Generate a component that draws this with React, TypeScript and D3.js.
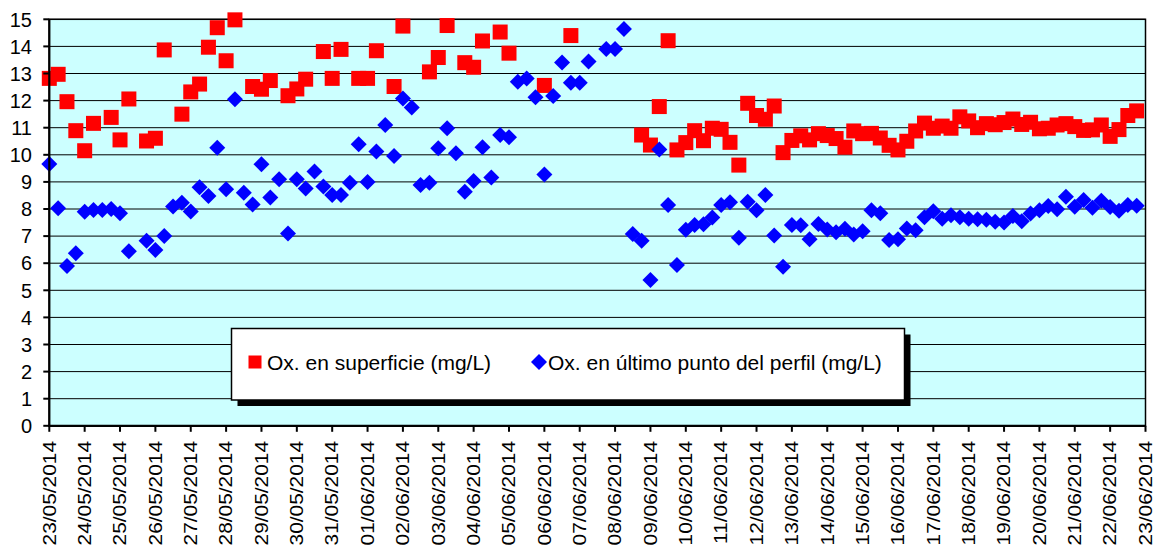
import React from "react";
import * as d3 from "d3";

// ---- data ----
const dateLabels = [
  "23/05/2014", "24/05/2014", "25/05/2014", "26/05/2014", "27/05/2014", "28/05/2014",
  "29/05/2014", "30/05/2014", "31/05/2014", "01/06/2014", "02/06/2014", "03/06/2014",
  "04/06/2014", "05/06/2014", "06/06/2014", "07/06/2014", "08/06/2014", "09/06/2014",
  "10/06/2014", "11/06/2014", "12/06/2014", "13/06/2014", "14/06/2014", "15/06/2014",
  "16/06/2014", "17/06/2014", "18/06/2014", "19/06/2014", "20/06/2014", "21/06/2014",
  "22/06/2014", "23/06/2014",
];
const yTicks = [0, 1, 2, 3, 4, 5, 6, 7, 8, 9, 10, 11, 12, 13, 14, 15];

const seriesNames = ["Ox. en superficie (mg/L)", "Ox. en último punto del perfil (mg/L)"];

// [month-day hour, mg/L]
const surface: [string, number][] = [
  ["05-23 00", 12.82], ["05-23 06", 12.97], ["05-23 12", 11.96], ["05-23 18", 10.89],
  ["05-24 00", 10.15], ["05-24 06", 11.16], ["05-24 18", 11.38],
  ["05-25 00", 10.55], ["05-25 06", 12.06], ["05-25 18", 10.51],
  ["05-26 00", 10.61], ["05-26 06", 13.87], ["05-26 18", 11.5],
  ["05-27 00", 12.32], ["05-27 06", 12.61], ["05-27 12", 13.97], ["05-27 18", 14.69],
  ["05-28 00", 13.47], ["05-28 06", 14.98], ["05-28 18", 12.52],
  ["05-29 00", 12.42], ["05-29 06", 12.74], ["05-29 18", 12.18],
  ["05-30 00", 12.43], ["05-30 06", 12.79], ["05-30 18", 13.81],
  ["05-31 00", 12.82], ["05-31 06", 13.89], ["05-31 18", 12.82],
  ["06-01 00", 12.82], ["06-01 06", 13.84], ["06-01 18", 12.52],
  ["06-02 00", 14.75], ["06-02 18", 13.06],
  ["06-03 00", 13.59], ["06-03 06", 14.77], ["06-03 18", 13.4],
  ["06-04 00", 13.23], ["06-04 06", 14.2], ["06-04 18", 14.53],
  ["06-05 00", 13.75], ["06-06 00", 12.56], ["06-06 18", 14.4],
  ["06-08 18", 10.73], ["06-09 00", 10.36], ["06-09 06", 11.78], ["06-09 12", 14.21], ["06-09 18", 10.18],
  ["06-10 00", 10.45], ["06-10 06", 10.89], ["06-10 12", 10.52], ["06-10 18", 10.98],
  ["06-11 00", 10.94], ["06-11 06", 10.46], ["06-11 12", 9.62], ["06-11 18", 11.9],
  ["06-12 00", 11.45], ["06-12 06", 11.31], ["06-12 12", 11.8], ["06-12 18", 10.08],
  ["06-13 00", 10.53], ["06-13 06", 10.7], ["06-13 12", 10.55], ["06-13 18", 10.78],
  ["06-14 00", 10.71], ["06-14 06", 10.6], ["06-14 12", 10.28], ["06-14 18", 10.88],
  ["06-15 00", 10.78], ["06-15 06", 10.79], ["06-15 12", 10.62], ["06-15 18", 10.35],
  ["06-16 00", 10.18], ["06-16 06", 10.5], ["06-16 12", 10.88], ["06-16 18", 11.17],
  ["06-17 00", 10.98], ["06-17 06", 11.06], ["06-17 12", 10.98], ["06-17 18", 11.4],
  ["06-18 00", 11.25], ["06-18 06", 11.0], ["06-18 12", 11.15], ["06-18 18", 11.11],
  ["06-19 00", 11.19], ["06-19 06", 11.32], ["06-19 12", 11.12], ["06-19 18", 11.2],
  ["06-20 00", 10.96], ["06-20 06", 10.98], ["06-20 12", 11.1], ["06-20 18", 11.15],
  ["06-21 00", 11.04], ["06-21 06", 10.9], ["06-21 12", 10.92], ["06-21 18", 11.1],
  ["06-22 00", 10.68], ["06-22 06", 10.93], ["06-22 12", 11.45], ["06-22 18", 11.62],
];

const bottom: [string, number][] = [
  ["05-23 00", 9.66], ["05-23 06", 8.03], ["05-23 12", 5.9], ["05-23 18", 6.37],
  ["05-24 00", 7.9], ["05-24 06", 7.96], ["05-24 12", 7.96], ["05-24 18", 8.0],
  ["05-25 00", 7.84], ["05-25 06", 6.44], ["05-25 18", 6.83],
  ["05-26 00", 6.49], ["05-26 06", 7.0], ["05-26 12", 8.09], ["05-26 18", 8.23],
  ["05-27 00", 7.91], ["05-27 06", 8.8], ["05-27 12", 8.48], ["05-27 18", 10.26],
  ["05-28 00", 8.73], ["05-28 06", 12.05], ["05-28 12", 8.6], ["05-28 18", 8.17],
  ["05-29 00", 9.65], ["05-29 06", 8.42], ["05-29 12", 9.1], ["05-29 18", 7.1],
  ["05-30 00", 9.1], ["05-30 06", 8.76], ["05-30 12", 9.38], ["05-30 18", 8.83],
  ["05-31 00", 8.52], ["05-31 06", 8.52], ["05-31 12", 8.97], ["05-31 18", 10.39],
  ["06-01 00", 9.0], ["06-01 06", 10.12], ["06-01 12", 11.1], ["06-01 18", 9.96],
  ["06-02 00", 12.08], ["06-02 06", 11.75], ["06-02 12", 8.89], ["06-02 18", 8.97],
  ["06-03 00", 10.24], ["06-03 06", 10.98], ["06-03 12", 10.06], ["06-03 18", 8.64],
  ["06-04 00", 9.03], ["06-04 06", 10.28], ["06-04 12", 9.16], ["06-04 18", 10.73],
  ["06-05 00", 10.65], ["06-05 06", 12.7], ["06-05 12", 12.82], ["06-05 18", 12.12],
  ["06-06 00", 9.27], ["06-06 06", 12.17], ["06-06 12", 13.41], ["06-06 18", 12.66],
  ["06-07 00", 12.66], ["06-07 06", 13.44], ["06-07 18", 13.9],
  ["06-08 00", 13.9], ["06-08 06", 14.64], ["06-08 12", 7.08], ["06-08 18", 6.83],
  ["06-09 00", 5.38], ["06-09 06", 10.2], ["06-09 12", 8.15], ["06-09 18", 5.93],
  ["06-10 00", 7.23], ["06-10 06", 7.41], ["06-10 12", 7.44], ["06-10 18", 7.69],
  ["06-11 00", 8.15], ["06-11 06", 8.25], ["06-11 12", 6.94], ["06-11 18", 8.27],
  ["06-12 00", 7.95], ["06-12 06", 8.52], ["06-12 12", 7.02], ["06-12 18", 5.87],
  ["06-13 00", 7.41], ["06-13 06", 7.4], ["06-13 12", 6.88], ["06-13 18", 7.45],
  ["06-14 00", 7.24], ["06-14 06", 7.14], ["06-14 12", 7.27], ["06-14 18", 7.06],
  ["06-15 00", 7.18], ["06-15 06", 7.95], ["06-15 12", 7.84], ["06-15 18", 6.86],
  ["06-16 00", 6.88], ["06-16 06", 7.28], ["06-16 12", 7.22], ["06-16 18", 7.7],
  ["06-17 00", 7.92], ["06-17 06", 7.64], ["06-17 12", 7.77], ["06-17 18", 7.7],
  ["06-18 00", 7.64], ["06-18 06", 7.62], ["06-18 12", 7.6], ["06-18 18", 7.53],
  ["06-19 00", 7.5], ["06-19 06", 7.74], ["06-19 12", 7.55], ["06-19 18", 7.83],
  ["06-20 00", 7.95], ["06-20 06", 8.11], ["06-20 12", 7.99], ["06-20 18", 8.45],
  ["06-21 00", 8.08], ["06-21 06", 8.33], ["06-21 12", 8.05], ["06-21 18", 8.3],
  ["06-22 00", 8.07], ["06-22 06", 7.94], ["06-22 12", 8.15], ["06-22 18", 8.12],
];

// ---- layout ----
const W = 1154;
const H = 548;
const PL = 49.3, PR = 1145.5, PT = 19.3, PB = 425.8;
const FONT = "Arial, 'Liberation Sans', Helvetica, sans-serif";

const parseTick = d3.utcParse("%d/%m/%Y");
const parsePoint = d3.utcParse("%Y-%m-%d %H");

export default function App() {
  const x = d3
    .scaleUtc()
    .domain([parseTick(dateLabels[0])!, parseTick(dateLabels[dateLabels.length - 1])!])
    .range([PL, PR]);
  const y = d3.scaleLinear().domain([0, 15]).range([PB, PT]);

  const sq = 15;
  const dm = 8;
  const diamond = (cx: number, cy: number, r: number) =>
    `M${cx},${cy - r}L${cx + r},${cy}L${cx},${cy + r}L${cx - r},${cy}Z`;

  return (
    <svg
      width={W}
      height={H}
      style={{ position: "absolute", left: 0, top: 0, background: "#fff" }}
      fontFamily={FONT}
    >
      <rect x={0} y={0} width={W} height={H} fill="#fff" />
      {/* plot area */}
      <rect x={PL} y={PT} width={PR - PL} height={PB - PT} fill="#CCFFFF" />
      {yTicks.map((t) => (
        <line key={"g" + t} x1={PL} x2={PR} y1={y(t)} y2={y(t)} stroke="#000" strokeWidth={1} />
      ))}
      <rect x={PL} y={PT} width={PR - PL} height={PB - PT} fill="none" stroke="#000" strokeWidth={1.5} />

      {/* series: surface (red squares) */}
      {surface.map(([t, v], i) => {
        const cx = x(parsePoint("2014-" + t)!);
        const cy = y(v);
        return <rect key={"s" + i} x={cx - sq / 2} y={cy - sq / 2} width={sq} height={sq} fill="#FF0000" />;
      })}
      {/* series: last point (blue diamonds) */}
      {bottom.map(([t, v], i) => {
        const cx = x(parsePoint("2014-" + t)!);
        const cy = y(v);
        return <path key={"b" + i} d={diamond(cx, cy, dm)} fill="#0000FF" />;
      })}

      {/* axes */}
      <line x1={PL} x2={PL} y1={PT} y2={PB + 1} stroke="#000" strokeWidth={2.2} />
      <line x1={PL - 1} x2={PR} y1={PB} y2={PB} stroke="#000" strokeWidth={2.2} />
      {yTicks.map((t) => (
        <g key={"yt" + t}>
          <line x1={PL - 6} x2={PL} y1={y(t)} y2={y(t)} stroke="#000" strokeWidth={2} />
          <text x={32} y={y(t)} dy="0.36em" textAnchor="end" fontSize={20} fill="#000">
            {t}
          </text>
        </g>
      ))}
      {dateLabels.map((lab) => {
        const tx = x(parseTick(lab)!);
        return (
          <g key={lab}>
            <line x1={tx} x2={tx} y1={PB} y2={PB + 6} stroke="#000" strokeWidth={2} />
            <text
              transform={`translate(${tx + 6.3},441) rotate(-90) scale(1.16,1)`}
              textAnchor="end"
              fontSize={18}
              fill="#000"
            >
              {lab}
            </text>
          </g>
        );
      })}

      {/* legend */}
      <rect x={237.5} y={334.5} width={673} height={71.5} fill="#000" />
      <rect x={231.5} y={328.5} width={673} height={71.5} fill="#fff" stroke="#000" strokeWidth={1.5} />
      <rect x={248.5} y={355.5} width={13} height={13} fill="#FF0000" />
      <text x={267} y={369.5} fontSize={21} fill="#000">
        {seriesNames[0]}
      </text>
      <path d={diamond(539, 362, 8)} fill="#0000FF" />
      <text x={548} y={369.5} fontSize={21} fill="#000">
        {seriesNames[1]}
      </text>
    </svg>
  );
}
